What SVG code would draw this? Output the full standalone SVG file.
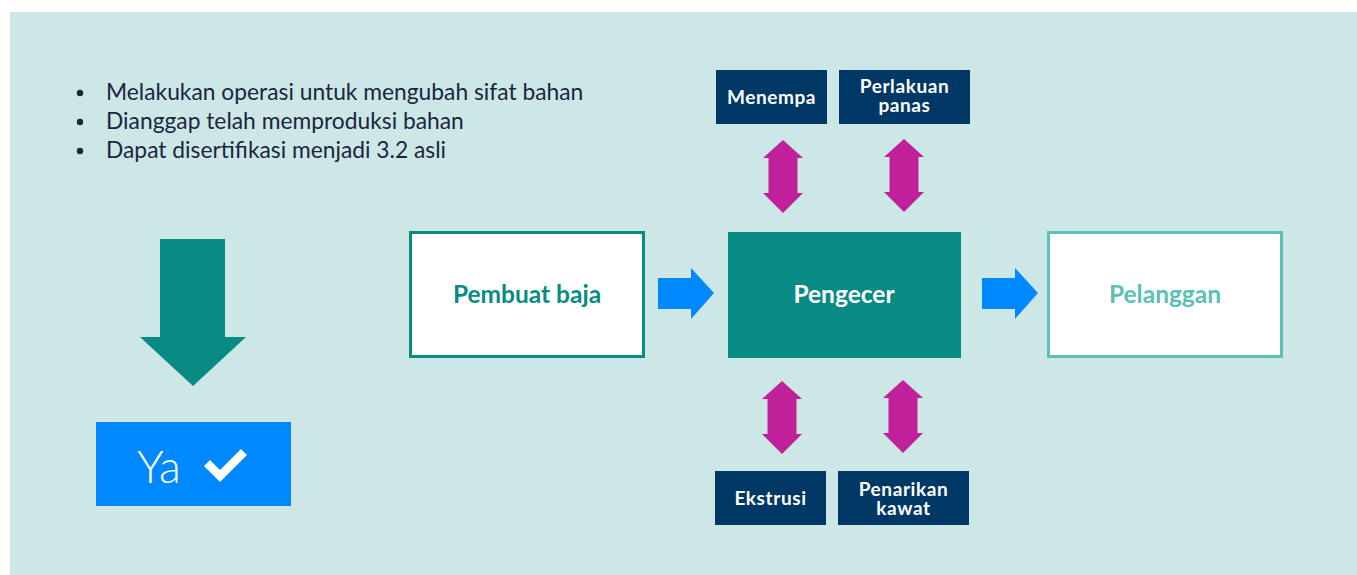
<svg xmlns="http://www.w3.org/2000/svg" width="1357" height="575" viewBox="0 0 1357 575">
<style>
text{font-family:Lato,"Noto Sans","Liberation Sans",sans-serif}
.bul{font-size:22.8px;fill:#1b2541}
.sm{font-size:19px;font-weight:bold;fill:#ffffff;text-anchor:middle;letter-spacing:0.6px}
.big{font-size:24.5px;font-weight:bold;text-anchor:middle}
.navy{fill:#003865}
.mag{fill:#c0209a}
.blue{fill:#0088ff}
</style>
<defs>
<path id="dbl" d="M0,0 L20,18 L14.5,18 L14.5,53 L20,53 L0,73 L-20,53 L-14.5,53 L-14.5,18 L-20,18 Z"/>
<path id="rar" d="M0,10 L33,10 L33,0 L56,25 L33,51 L33,41 L0,41 Z"/>
</defs>
<rect x="10" y="12" width="1347" height="563" fill="#cde7e7"/>
<g id="bullets">
<circle cx="80" cy="93" r="3.2" fill="#1b2541"/>
<circle cx="80" cy="122" r="3.2" fill="#1b2541"/>
<circle cx="80" cy="151" r="3.2" fill="#1b2541"/>
<text class="bul" x="106" y="100">Melakukan operasi untuk mengubah sifat bahan</text>
<text class="bul" x="106" y="129">Dianggap telah memproduksi bahan</text>
<text class="bul" x="106" y="158">Dapat disertifikasi menjadi 3.2 asli</text>
</g>
<g id="down-arrow">
<path d="M160,239 L225,239 L225,337 L246,337 L193,386 L140,337 L160,337 Z" fill="#088a85"/>
</g>
<g id="ya">
<rect x="96" y="422" width="195" height="84" fill="#0088ff"/>
<text x="137" y="483" font-size="45" fill="#ffffff" style="font-weight:300">Ya</text>
<path d="M204,466 L210,460 L220,470 L241,449 L247,455 L220,482 Z" fill="#ffffff"/>
</g>
<g id="pembuat">
<rect x="410.5" y="232.5" width="233" height="124" fill="#ffffff" stroke="#088a85" stroke-width="3"/>
<text class="big" x="527" y="303" fill="#088a85">Pembuat baja</text>
</g>
<g id="pengecer">
<rect x="728" y="232" width="233" height="126" fill="#088a85"/>
<text class="big" x="844" y="303" fill="#ffffff">Pengecer</text>
</g>
<g id="pelanggan">
<rect x="1048.5" y="232.5" width="233" height="124" fill="#ffffff" stroke="#5bc0b5" stroke-width="3"/>
<text class="big" x="1165" y="303" fill="#5bc0b5">Pelanggan</text>
</g>
<g id="menempa">
<rect class="navy" x="716" y="70" width="111" height="54"/>
<text class="sm" x="771.5" y="104">Menempa</text>
</g>
<g id="perlakuan">
<rect class="navy" x="839" y="70" width="131" height="54"/>
<text class="sm" x="904.5" y="93">Perlakuan</text>
<text class="sm" x="904.5" y="112">panas</text>
</g>
<g id="ekstrusi">
<rect class="navy" x="715" y="471" width="111" height="54"/>
<text class="sm" x="770.5" y="505">Ekstrusi</text>
</g>
<g id="penarikan">
<rect class="navy" x="838" y="471" width="131" height="54"/>
<text class="sm" x="903.5" y="496">Penarikan</text>
<text class="sm" x="903.5" y="515">kawat</text>
</g>
<g id="connectors">
<use href="#rar" class="blue" x="658" y="268"/>
<use href="#rar" class="blue" x="982" y="268"/>
<use href="#dbl" class="mag" x="783" y="140"/>
<use href="#dbl" class="mag" x="904" y="139"/>
<use href="#dbl" class="mag" x="782" y="381"/>
<use href="#dbl" class="mag" x="903" y="380"/>
</g>
</svg>
